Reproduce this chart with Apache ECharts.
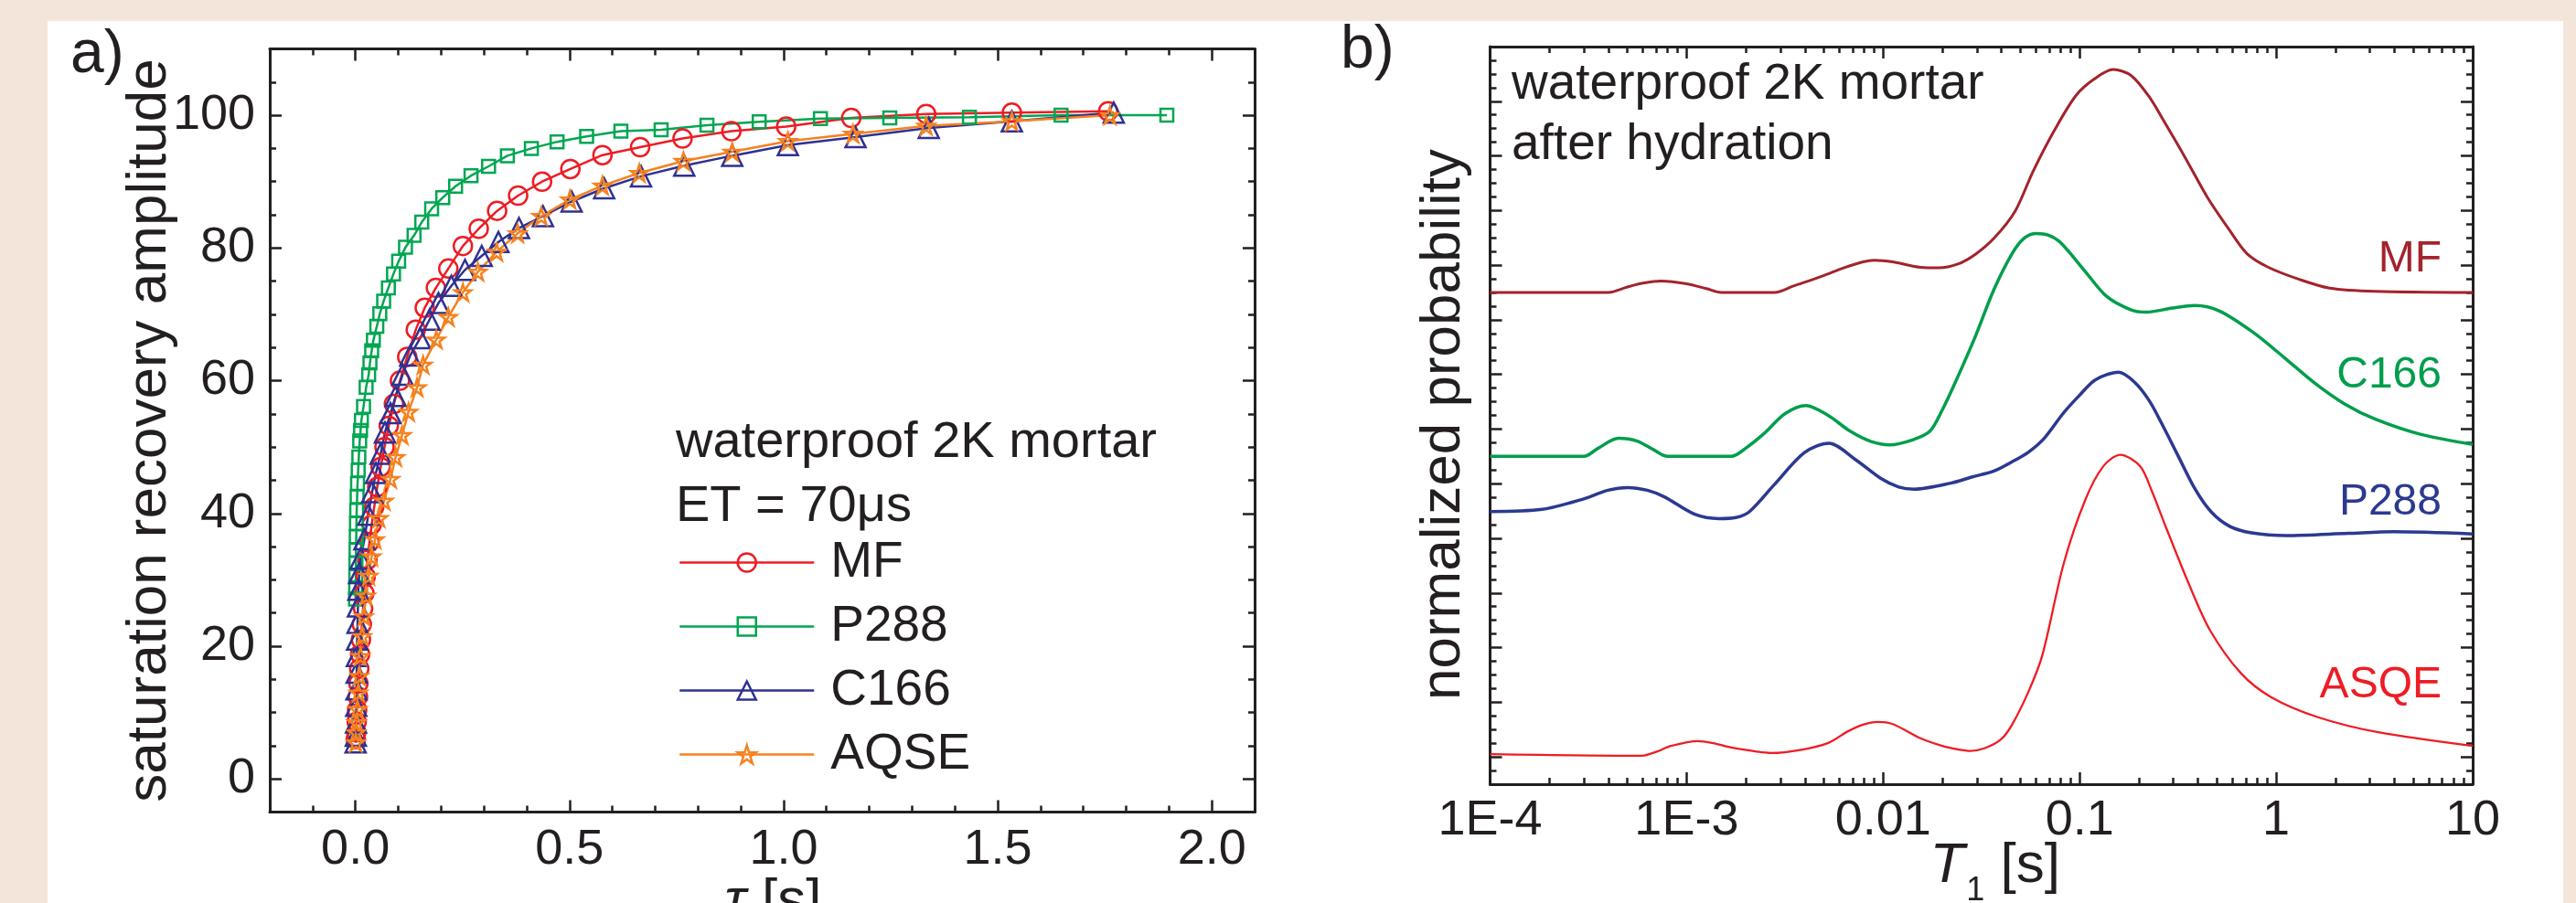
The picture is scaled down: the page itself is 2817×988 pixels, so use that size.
<!DOCTYPE html>
<html><head><meta charset="utf-8">
<script src="https://cdn.jsdelivr.net/npm/echarts@6/dist/echarts.min.js"></script>
<style>
html,body{margin:0;padding:0;background:#f4e5db;width:2817px;height:988px;overflow:hidden}
#paper{position:absolute;left:52px;top:23px;width:2751px;height:965px;background:#fff}
#chart{position:absolute;left:0;top:0;width:2817px;height:988px}
</style></head><body>
<div id="paper"></div><div id="chart"></div>
<script>
// ---------- Panel a: saturation recovery curves ----------
const mfTau = [0.001,0.002,0.003,0.004,0.006,0.007,0.009,0.011,0.013,0.015,0.018,0.021,0.024,0.028,0.033,0.038,0.044,0.051,0.059,0.068,0.078,0.090,0.104,0.121,0.141,0.162,0.188,0.217,0.251,0.288,0.331,0.380,0.436,0.502,0.577,0.665,0.764,0.878,1.006,1.158,1.333,1.533,1.758];
const mfAmp = [6.0,7.0,8.6,10.4,12.4,14.4,16.6,18.8,21.0,23.3,25.7,28.0,30.5,33.0,35.7,38.3,41.0,44.0,47.0,50.0,53.2,56.5,60.0,63.6,67.7,71.0,74.0,76.9,80.3,82.9,85.6,87.9,90.0,91.9,94.0,95.2,96.5,97.6,98.3,99.6,100.2,100.4,100.6];

const p288Tau = [0.0003,0.0006,0.0009,0.0012,0.0015,0.002,0.0025,0.003,0.004,0.005,0.0065,0.008,0.010,0.012,0.014,0.019,0.025,0.031,0.034,0.038,0.042,0.050,0.057,0.066,0.077,0.089,0.101,0.117,0.137,0.155,0.178,0.204,0.234,0.270,0.311,0.355,0.411,0.471,0.540,0.620,0.714,0.821,0.943,1.086,1.248,1.434,1.648,1.895];
const p288Amp = [27.1,28.8,30.5,32.5,34.5,36.5,38.5,40.5,42.5,44.5,46.5,48.5,50.9,52.5,54.0,56.1,59.0,60.9,62.7,64.5,66.1,68.2,70.1,72.0,74.0,76.1,78.0,80.1,81.9,83.9,85.9,87.6,89.3,90.9,92.3,93.9,95.0,96.0,96.8,97.6,97.8,98.5,99.0,99.5,99.6,99.7,100.0,100.0];

const c166Tau = [0.0005,0.001,0.0015,0.002,0.0025,0.003,0.0035,0.004,0.005,0.006,0.007,0.009,0.012,0.021,0.030,0.039,0.048,0.059,0.069,0.082,0.094,0.110,0.128,0.151,0.173,0.194,0.224,0.256,0.295,0.334,0.382,0.438,0.505,0.581,0.667,0.768,0.880,1.010,1.168,1.339,1.533,1.771];
const c166Amp = [5.5,6.5,8.5,11.0,13.5,16.0,18.5,21.0,23.5,26.0,28.5,31.0,33.2,36.1,39.8,43.2,46.1,49.0,52.2,55.1,57.7,60.9,63.8,66.4,69.2,71.7,74.3,76.7,78.8,80.9,83.0,84.8,87.0,89.0,90.8,92.4,93.9,95.5,96.7,98.1,99.1,100.4];

const aqseTau = [0.001,0.002,0.003,0.005,0.007,0.009,0.012,0.016,0.020,0.025,0.031,0.038,0.046,0.055,0.067,0.082,0.094,0.109,0.124,0.144,0.158,0.189,0.217,0.251,0.286,0.330,0.379,0.434,0.501,0.577,0.663,0.766,0.880,1.010,1.162,1.333,1.533,1.762];
const aqseAmp = [5.5,7.0,8.5,10.5,13.0,15.5,18.5,21.5,24.5,27.6,30.6,33.5,36.1,39.3,41.9,45.2,48.5,51.8,55.3,59.0,62.4,66.2,69.6,73.3,76.4,79.4,82.2,84.8,87.3,89.4,91.3,93.1,94.5,96.1,97.2,98.4,99.1,100.0];

const aXMajor = [0, 0.5, 1.0, 1.5, 2.0];
const aYMajor = [0, 20, 40, 60, 80, 100];

// ---------- Panel b: T1 distributions ----------
const bMfT = [1e-4,4.0e-4,5.0e-4,6.0e-4,7.4e-4,1.0e-3,1.26e-3,1.5e-3,2.8e-3,3.5e-3,4.9e-3,6.3e-3,7.9e-3,9.0e-3,1.12e-2,1.55e-2,1.92e-2,2.4e-2,2.95e-2,3.66e-2,4.7e-2,5.8e-2,7.5e-2,9.6e-2,0.119,0.148,0.183,0.226,0.271,0.348,0.447,0.574,0.711,0.914,1.31,1.87,3.2,10];
const bMfP = [9.00,9.00,9.10,9.17,9.21,9.16,9.07,9.00,9.00,9.12,9.30,9.45,9.56,9.59,9.56,9.46,9.45,9.52,9.70,9.99,10.49,11.22,11.99,12.61,12.91,13.08,12.97,12.58,12.11,11.44,10.74,10.16,9.71,9.46,9.24,9.08,9.02,9.00];

const bC166T = [1e-4,3.0e-4,3.55e-4,4.5e-4,5.6e-4,6.8e-4,8.0e-4,1.69e-3,2.0e-3,2.5e-3,3.16e-3,4.05e-3,5.25e-3,6.8e-3,8.7e-3,1.08e-2,1.41e-2,1.73e-2,2.0e-2,2.38e-2,2.95e-2,3.66e-2,4.53e-2,5.25e-2,6.03e-2,6.9e-2,8.0e-2,0.107,0.137,0.183,0.219,0.291,0.387,0.515,0.764,1.09,1.56,2.23,3.2,5.47,10];
const bC166P = [6.00,6.00,6.15,6.33,6.28,6.12,6.00,6.00,6.15,6.43,6.78,6.93,6.75,6.46,6.27,6.21,6.30,6.46,6.85,7.43,8.20,9.05,9.71,10.00,10.08,10.05,9.91,9.38,8.93,8.68,8.64,8.71,8.76,8.66,8.27,7.82,7.35,6.96,6.68,6.40,6.22];

const bP288T = [1e-4,1.84e-4,2.92e-4,3.98e-4,5.0e-4,6.3e-4,7.7e-4,1.1e-3,1.46e-3,1.78e-3,2.09e-3,2.79e-3,3.98e-3,5.3e-3,7.3e-3,9.7e-3,1.2e-2,1.44e-2,2.21e-2,2.82e-2,3.66e-2,4.53e-2,5.5e-2,6.6e-2,8.3e-2,0.1,0.12,0.158,0.19,0.226,0.26,0.313,0.387,0.468,0.58,0.75,1.13,2.32,3.96,10];
const bP288P = [4.99,5.03,5.21,5.38,5.43,5.38,5.26,4.94,4.86,4.88,4.99,5.48,6.07,6.24,5.93,5.60,5.44,5.40,5.51,5.62,5.73,5.90,6.08,6.33,6.80,7.12,7.40,7.54,7.36,7.02,6.62,6.05,5.40,4.98,4.72,4.60,4.55,4.59,4.62,4.58];

const bAsqeT = [1e-4,5.9e-4,7.1e-4,8.3e-4,1.14e-3,1.41e-3,1.69e-3,2.24e-3,2.69e-3,3.84e-3,5.3e-3,6.56e-3,7.9e-3,9.4e-3,1.12e-2,1.55e-2,2.0e-2,2.38e-2,2.78e-2,3.3e-2,3.98e-2,4.53e-2,5.5e-2,6.47e-2,8.3e-2,0.107,0.132,0.161,0.203,0.234,0.271,0.361,0.462,0.662,0.946,1.62,3.31,10];
const bAsqeP = [0.55,0.52,0.60,0.70,0.79,0.74,0.67,0.60,0.57,0.63,0.76,0.96,1.09,1.14,1.10,0.84,0.70,0.64,0.61,0.66,0.82,1.09,1.70,2.37,4.04,5.21,5.82,6.03,5.82,5.35,4.76,3.65,2.81,2.03,1.59,1.23,0.95,0.70];

const bXLabels = ['1E-4','1E-3','0.01','0.1','1','10'];
const bDecades = [-4,-3,-2,-1,0];

// ---------- styling ----------
const FONT = '"Liberation Sans", Arial, Helvetica, sans-serif';
const INK = '#231f20';
const COL_A = {MF:'#ed1c24', P288:'#00a651', C166:'#2e3192', AQSE:'#f58220'};
const COL_B = {MF:'#a3232d', C166:'#009e4c', P288:'#2b3990', ASQE:'#ee1c25'};
const STAR = 'path://M50,0 L61.23,34.55 L97.55,34.55 L68.17,55.9 L79.39,90.45 L50,69.1 L20.61,90.45 L31.83,55.9 L2.45,34.55 L38.77,34.55 Z';

const bXMinor = [];
bDecades.forEach(d => { for (let k = 2; k <= 9; k++) bXMinor.push(d + Math.log10(k)); });

const line = {show:true, onZero:false, lineStyle:{color:INK, width:3}};
const noLine = {show:false, onZero:false};
function tick(len, custom){
  const t = {show:true, inside:true, length:len, lineStyle:{color:INK, width:2.5}};
  if (custom) t.customValues = custom;
  return t;
}
const lab = {color:INK, fontFamily:FONT, fontSize:54};
const off = {show:false};
const nameStyle = {color:INK, fontFamily:FONT, fontSize:62, lineHeight:62};

function aSeries(name, tau, amp, color, symbol, size){
  return {name, type:'line', xAxisIndex:0, yAxisIndex:0,
    data: tau.map((t,i)=>[t, amp[i]]),
    symbol, symbolSize:size, showAllSymbol:true,
    lineStyle:{color, width:2.5},
    itemStyle:{color:'rgba(255,255,255,0)', borderColor:color, borderWidth:2.5},
    emphasis:{disabled:true}, clip:true};
}
function bSeries(name, T, P, color, w){
  return {name, type:'line', xAxisIndex:4, yAxisIndex:4,
    data: T.map((t,i)=>[t, P[i]]), symbol:'none', smooth:0.3,
    lineStyle:{color, width:w}, emphasis:{disabled:true}};
}
function gtext(text, x, y, size, color, align){
  return {type:'text', x, y, silent:true,
    style:{text, fill:color, font: size+'px ' + FONT, align: align||'left', verticalAlign:'middle',
           textAlign: align||'left', textVerticalAlign:'middle'}};
}

const chart = echarts.init(document.getElementById('chart'), null, {renderer:'canvas'});
chart.setOption({
  animation:false,
  backgroundColor:'transparent',
  grid:[
    {left:295, top:53.5, width:1077, height:835, outerBoundsMode:'none', containLabel:false},
    {left:1629.5, top:51, width:1074.5, height:807, outerBoundsMode:'none', containLabel:false}
  ],
  xAxis:[
    {gridIndex:0, type:'value', position:'bottom', min:-0.2, max:2.1, axisLine:line,
     axisTick:tick(13, aXMajor), splitLine:off,
     axisLabel:Object.assign({}, lab, {margin:15, customValues:aXMajor, formatter:v=>v.toFixed(1)}),
     name:'{t|τ} [s]', nameLocation:'middle', nameGap:67, nameMoveOverlap:false,
     nameTextStyle:Object.assign({}, nameStyle, {padding:[0,0,0,24], rich:{t:{fontStyle:'italic', fontSize:62, fontFamily:FONT, color:INK, lineHeight:62}}})},
    {gridIndex:0, type:'value', position:'bottom', min:-0.2, max:2.1, interval:0.1, axisLine:noLine,
     axisTick:tick(7), axisLabel:off, splitLine:off},
    {gridIndex:0, type:'value', position:'top', min:-0.2, max:2.1, axisLine:line,
     axisTick:tick(13, aXMajor), axisLabel:off, splitLine:off},
    {gridIndex:0, type:'value', position:'top', min:-0.2, max:2.1, interval:0.1, axisLine:noLine,
     axisTick:tick(7), axisLabel:off, splitLine:off},

    {gridIndex:1, type:'log', logBase:10, position:'bottom', min:1e-4, max:10, axisLine:line,
     axisTick:tick(13), splitLine:off, minorTick:off,
     axisLabel:Object.assign({}, lab, {margin:13, formatter:v=>bXLabels[Math.round(Math.log10(v))+4]}),
     name:'{t|T}{s|1} [s]', nameLocation:'middle', nameGap:59, nameMoveOverlap:false,
     nameTextStyle:Object.assign({}, nameStyle, {padding:[0,0,0,30], rich:{
        t:{fontStyle:'italic', fontSize:62, fontFamily:FONT, color:INK, lineHeight:62},
        s:{fontSize:36, fontFamily:FONT, color:INK, lineHeight:62, padding:[54,0,0,2]}}})},
    {gridIndex:1, type:'value', position:'bottom', min:-4, max:1, axisLine:noLine,
     axisTick:tick(7, bXMinor), axisLabel:off, splitLine:off},
    {gridIndex:1, type:'log', logBase:10, position:'top', min:1e-4, max:10, axisLine:line,
     axisTick:tick(13), axisLabel:off, splitLine:off, minorTick:off},
    {gridIndex:1, type:'value', position:'top', min:-4, max:1, axisLine:noLine,
     axisTick:tick(7, bXMinor), axisLabel:off, splitLine:off}
  ],
  yAxis:[
    {gridIndex:0, type:'value', position:'left', min:-5, max:110, axisLine:line,
     axisTick:tick(13, aYMajor), splitLine:off,
     axisLabel:Object.assign({}, lab, {margin:16, customValues:aYMajor}),
     name:'saturation recovery amplitude', nameLocation:'middle', nameGap:100, nameMoveOverlap:false,
     nameTextStyle:nameStyle},
    {gridIndex:0, type:'value', position:'left', min:-5, max:110, interval:5, axisLine:noLine,
     axisTick:tick(7), axisLabel:off, splitLine:off},
    {gridIndex:0, type:'value', position:'right', min:-5, max:110, axisLine:line,
     axisTick:tick(13, aYMajor), axisLabel:off, splitLine:off},
    {gridIndex:0, type:'value', position:'right', min:-5, max:110, interval:5, axisLine:noLine,
     axisTick:tick(7), axisLabel:off, splitLine:off},

    {gridIndex:1, type:'value', position:'left', min:0, max:13.5, interval:0.25, axisLine:line,
     axisTick:tick(7), axisLabel:off, splitLine:off,
     name:'normalized probability', nameLocation:'middle', nameGap:20, nameMoveOverlap:false,
     nameTextStyle:Object.assign({}, nameStyle, {padding:[0,20,0,0]})},
    {gridIndex:1, type:'value', position:'left', inverse:true, min:0, max:13.5, interval:1, axisLine:noLine,
     axisTick:tick(13), axisLabel:off, splitLine:off},
    {gridIndex:1, type:'value', position:'right', min:0, max:13.5, interval:0.25, axisLine:line,
     axisTick:tick(7), axisLabel:off, splitLine:off},
    {gridIndex:1, type:'value', position:'right', inverse:true, min:0, max:13.5, interval:1, axisLine:noLine,
     axisTick:tick(13), axisLabel:off, splitLine:off}
  ],
  legend:{
    data:['MF','P288','C166','AQSE'], orient:'vertical', left:742, top:588, padding:0,
    itemWidth:147, itemHeight:25, itemGap:15, selectedMode:false,
    itemStyle:{borderWidth:2.5}, lineStyle:{width:2.5},
    textStyle:{fontFamily:FONT, fontSize:55, color:INK, lineHeight:55, padding:[0,0,0,13]}
  },
  series:[
    aSeries('MF', mfTau, mfAmp, COL_A.MF, 'circle', 20),
    aSeries('P288', p288Tau, p288Amp, COL_A.P288, 'rect', 14),
    aSeries('C166', c166Tau, c166Amp, COL_A.C166, 'triangle', 22),
    aSeries('AQSE', aqseTau, aqseAmp, COL_A.AQSE, STAR, 18),
    bSeries('MF T1 distribution', bMfT, bMfP, COL_B.MF, 3),
    bSeries('C166 T1 distribution', bC166T, bC166P, COL_B.C166, 3.5),
    bSeries('P288 T1 distribution', bP288T, bP288P, COL_B.P288, 3.5),
    bSeries('ASQE T1 distribution', bAsqeT, bAsqeP, COL_B.ASQE, 2.3)
  ],
  graphic:[
    gtext('a)', 77, 60.4, 66, INK),
    gtext('b)', 1466, 56, 66, INK),
    gtext('waterproof 2K mortar', 739, 484.2, 56, INK),
    gtext('ET = 70\u03bcs', 739, 554.2, 56, INK),
    gtext('waterproof 2K mortar', 1653, 92.6, 55, INK),
    gtext('after hydration', 1653, 159.2, 55, INK),
    gtext('MF', 2670, 284.1, 48, COL_B.MF, 'right'),
    gtext('C166', 2670, 410.4, 48, COL_B.C166, 'right'),
    gtext('P288', 2670, 550.1, 48, COL_B.P288, 'right'),
    gtext('ASQE', 2670, 749.4, 48, COL_B.ASQE, 'right')
  ]
});
</script>
</body></html>
